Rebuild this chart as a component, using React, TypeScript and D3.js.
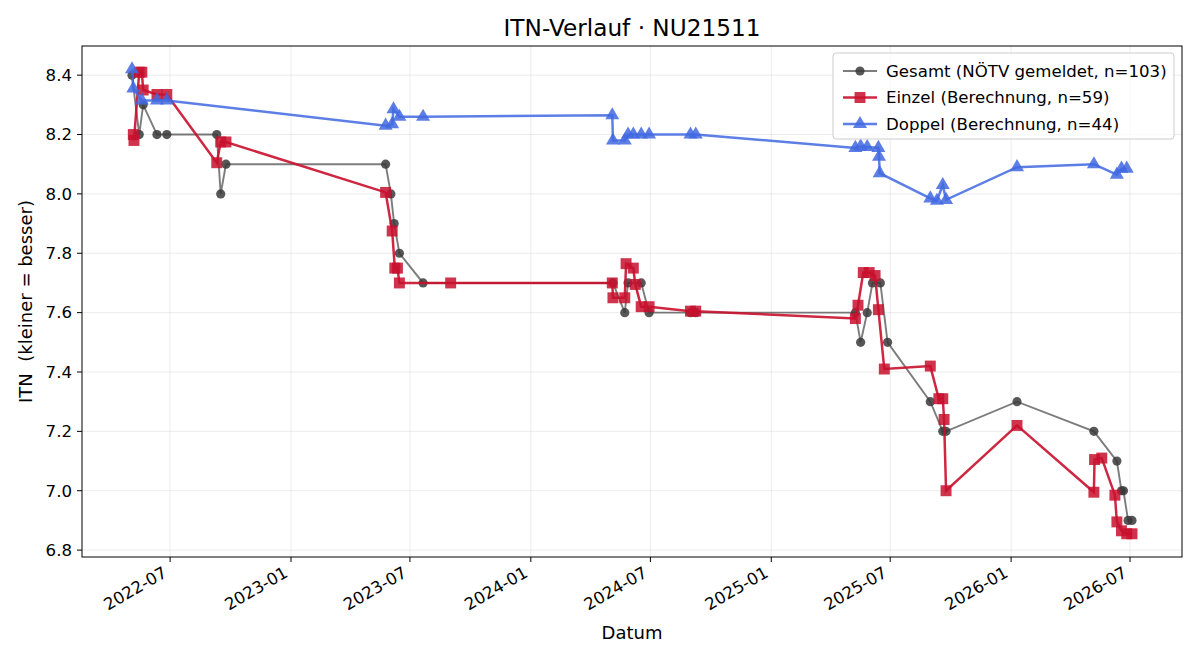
import React, { useEffect, useRef } from "react";
import * as d3 from "d3";

// Gesamt (NÖTV gemeldet)
const gesamtDates = [
  "2022-05-04", "2022-05-15", "2022-05-21", "2022-06-11", "2022-06-26", "2022-09-10", "2022-09-16", "2022-09-24",
  "2023-05-25", "2023-06-02", "2023-06-07", "2023-06-15", "2023-07-21",
  "2024-05-05", "2024-05-23", "2024-05-28", "2024-06-17", "2024-06-29", "2024-08-31", "2024-09-08",
  "2025-05-09", "2025-05-17", "2025-05-27", "2025-06-04", "2025-06-16", "2025-06-27", "2025-08-31", "2025-09-19", "2025-09-24",
  "2026-01-10", "2026-05-07", "2026-06-11", "2026-06-18", "2026-06-21", "2026-06-28", "2026-07-04",
];
const gesamtValues = [
  8.4, 8.2, 8.3, 8.2, 8.2, 8.2, 8.0, 8.1,
  8.1, 8.0, 7.9, 7.8, 7.7,
  7.7, 7.6, 7.7, 7.7, 7.6, 7.6, 7.6,
  7.6, 7.5, 7.6, 7.7, 7.7, 7.5, 7.3, 7.2, 7.2,
  7.3, 7.2, 7.1, 7.0, 7.0, 6.9, 6.9,
];

// Einzel (Berechnung)
const einzelDates = [
  "2022-05-06", "2022-05-07", "2022-05-15", "2022-05-19", "2022-05-21", "2022-06-11", "2022-06-26", "2022-09-10", "2022-09-16", "2022-09-24",
  "2023-05-25", "2023-06-04", "2023-06-08", "2023-06-12", "2023-06-15", "2023-09-01",
  "2024-05-04", "2024-05-05", "2024-05-23", "2024-05-25", "2024-06-05", "2024-06-08", "2024-06-17", "2024-06-29", "2024-08-31", "2024-09-08",
  "2025-05-09", "2025-05-13", "2025-05-21", "2025-05-30", "2025-06-08", "2025-06-13", "2025-06-22", "2025-08-31", "2025-09-13", "2025-09-19", "2025-09-21", "2025-09-24",
  "2026-01-10", "2026-05-07", "2026-05-08", "2026-05-19", "2026-06-08", "2026-06-11", "2026-06-18", "2026-06-26", "2026-07-04",
];
const einzelValues = [
  8.2, 8.18, 8.41, 8.41, 8.35, 8.335, 8.335, 8.105, 8.175, 8.175,
  8.005, 7.875, 7.75, 7.75, 7.7, 7.7,
  7.7, 7.65, 7.65, 7.765, 7.75, 7.695, 7.62, 7.62, 7.605, 7.605,
  7.58, 7.625, 7.735, 7.735, 7.725, 7.61, 7.41, 7.42, 7.31, 7.31, 7.24, 7.0,
  7.22, 6.995, 7.105, 7.11, 6.985, 6.895, 6.865, 6.855, 6.855,
];

// Doppel (Berechnung)
const doppelDates = [
  "2022-05-04", "2022-05-06", "2022-05-19", "2022-06-11", "2022-06-26",
  "2023-05-25", "2023-06-04", "2023-06-06", "2023-06-15", "2023-07-21",
  "2024-05-04", "2024-05-05", "2024-05-23", "2024-05-28", "2024-06-05", "2024-06-17", "2024-06-29", "2024-08-31", "2024-09-08",
  "2025-05-09", "2025-05-17", "2025-05-27", "2025-06-13", "2025-06-14", "2025-06-15", "2025-08-31", "2025-09-10", "2025-09-19", "2025-09-24",
  "2026-01-10", "2026-05-07", "2026-06-11", "2026-06-18", "2026-06-26",
];
const doppelValues = [
  8.42, 8.355, 8.315, 8.315, 8.315,
  8.23, 8.235, 8.285, 8.26, 8.26,
  8.265, 8.18, 8.18, 8.2, 8.2, 8.2, 8.2, 8.2, 8.2,
  8.155, 8.16, 8.158, 8.155, 8.125, 8.07, 7.985, 7.977, 8.03, 7.98,
  8.09, 8.1, 8.065, 8.085, 8.085,
];

const legendLabels = [
  "Gesamt (NÖTV gemeldet, n=103)",
  "Einzel (Berechnung, n=59)",
  "Doppel (Berechnung, n=44)",
];
const yTicks = [6.8, 7.0, 7.2, 7.4, 7.6, 7.8, 8.0, 8.2, 8.4];
const xTickLabels = ["2022-07", "2023-01", "2023-07", "2024-01", "2024-07", "2025-01", "2025-07", "2026-01", "2026-07"];

const FONT = "DejaVu Sans, sans-serif";
const TICK_FS = 16.6;

export default function App() {
  const ref = useRef<SVGSVGElement>(null);

  useEffect(() => {
    document.body.style.margin = "0";
    const svg = d3.select(ref.current);
    svg.selectAll("*").remove();

    const W = 1200, H = 660;
    const left = 82, right = 1182, top = 46, bottom = 557;

    const parse = d3.timeParse("%Y-%m-%d");
    const mk = (ds: string[], vs: number[]) => ds.map((d, i) => ({ date: parse(d) as Date, v: vs[i] }));
    const gesamt = mk(gesamtDates, gesamtValues);
    const einzel = mk(einzelDates, einzelValues);
    const doppel = mk(doppelDates, doppelValues);
    const all = [...gesamt, ...einzel, ...doppel];

    // matplotlib style 5% margins
    const [dMin, dMax] = d3.extent(all, (d) => +d.date) as [number, number];
    const dPad = (dMax - dMin) * 0.05;
    const [vMin, vMax] = d3.extent(all, (d) => d.v) as [number, number];
    const vPad = (vMax - vMin) * 0.05;

    const x = d3.scaleTime().domain([new Date(dMin - dPad), new Date(dMax + dPad)]).range([left, right]);
    const y = d3.scaleLinear().domain([vMin - vPad, vMax + vPad]).range([bottom, top]);

    svg.append("rect").attr("width", W).attr("height", H).attr("fill", "white");

    // grid
    const xTicks = xTickLabels.map((s) => d3.timeParse("%Y-%m")(s) as Date);
    const grid = svg.append("g").attr("stroke", "#b0b0b0").attr("stroke-opacity", 0.3).attr("stroke-width", 0.8);
    grid.selectAll("line.gx").data(xTicks).join("line").attr("class", "gx")
      .attr("x1", (d) => x(d)).attr("x2", (d) => x(d)).attr("y1", top).attr("y2", bottom);
    grid.selectAll("line.gy").data(yTicks).join("line").attr("class", "gy")
      .attr("x1", left).attr("x2", right).attr("y1", (d) => y(d)).attr("y2", (d) => y(d));

    const line = d3.line<{ date: Date; v: number }>().x((d) => x(d.date)).y((d) => y(d.v));

    // Gesamt
    svg.append("path").datum(gesamt).attr("d", line).attr("fill", "none")
      .attr("stroke", "#444").attr("stroke-opacity", 0.7).attr("stroke-width", 1.9);
    svg.append("g").selectAll("circle").data(gesamt).join("circle")
      .attr("cx", (d) => x(d.date)).attr("cy", (d) => y(d.v)).attr("r", 4.6)
      .attr("fill", "#3a3a3a").attr("fill-opacity", 0.85);

    // Einzel
    const red = "#c8102e";
    svg.append("path").datum(einzel).attr("d", line).attr("fill", "none")
      .attr("stroke", red).attr("stroke-opacity", 0.9).attr("stroke-width", 2.5);
    const sq = d3.symbol().type(d3.symbolSquare).size(120);
    svg.append("g").selectAll("path").data(einzel).join("path")
      .attr("d", sq).attr("transform", (d) => `translate(${x(d.date)},${y(d.v)})`)
      .attr("fill", red).attr("fill-opacity", 0.85);

    // Doppel
    const blue = "#4169e1";
    svg.append("path").datum(doppel).attr("d", line).attr("fill", "none")
      .attr("stroke", blue).attr("stroke-opacity", 0.85).attr("stroke-width", 2.5);
    const tri = d3.symbol().type(d3.symbolTriangle).size(85);
    svg.append("g").selectAll("path").data(doppel).join("path")
      .attr("d", tri).attr("transform", (d) => `translate(${x(d.date)},${y(d.v)})`)
      .attr("fill", blue).attr("fill-opacity", 0.85);

    // spines
    svg.append("rect").attr("x", left).attr("y", top).attr("width", right - left).attr("height", bottom - top)
      .attr("fill", "none").attr("stroke", "black").attr("stroke-width", 1);

    // y ticks
    const yt = svg.append("g").selectAll("g").data(yTicks).join("g");
    yt.append("line").attr("x1", left - 5).attr("x2", left).attr("y1", (d) => y(d)).attr("y2", (d) => y(d)).attr("stroke", "black");
    yt.append("text").attr("x", left - 10).attr("y", (d) => y(d)).attr("dy", "0.35em").attr("text-anchor", "end")
      .attr("font-family", FONT).attr("font-size", TICK_FS).text((d) => d.toFixed(1));

    // x ticks
    const xt = svg.append("g").selectAll("g").data(xTicks).join("g");
    xt.append("line").attr("x1", (d) => x(d)).attr("x2", (d) => x(d)).attr("y1", bottom).attr("y2", bottom + 5).attr("stroke", "black");
    xt.append("text").attr("transform", (d) => `translate(${x(d) - 2},${bottom + 19}) rotate(-30)`)
      .attr("text-anchor", "end").attr("font-family", FONT).attr("font-size", TICK_FS)
      .text((_, i) => xTickLabels[i]);

    // labels
    svg.append("text").attr("x", (left + right) / 2).attr("y", 36).attr("text-anchor", "middle")
      .attr("font-family", FONT).attr("font-size", 23.2).text("ITN-Verlauf · NU21511");
    svg.append("text").attr("x", (left + right) / 2).attr("y", 639).attr("text-anchor", "middle")
      .attr("font-family", FONT).attr("font-size", 18).text("Datum");
    svg.append("text").attr("transform", `translate(32,${(top + bottom) / 2}) rotate(-90)`).attr("text-anchor", "middle")
      .attr("font-family", FONT).attr("font-size", 18).style("white-space", "pre")
      .text("ITN  (kleiner = besser)");

    // legend
    const lg = svg.append("g");
    lg.append("rect").attr("x", 833).attr("y", 53).attr("width", 341).attr("height", 86).attr("rx", 3)
      .attr("fill", "white").attr("fill-opacity", 0.8).attr("stroke", "#cccccc");
    const rows = [
      { color: "#444", op: 0.7, w: 1.9, mark: "c" },
      { color: red, op: 0.9, w: 2.5, mark: "s" },
      { color: blue, op: 0.85, w: 2.5, mark: "t" },
    ];
    rows.forEach((r, i) => {
      const cy = 71 + i * 26.5;
      lg.append("line").attr("x1", 843).attr("x2", 877).attr("y1", cy).attr("y2", cy)
        .attr("stroke", r.color).attr("stroke-opacity", r.op).attr("stroke-width", r.w);
      if (r.mark === "c") {
        lg.append("circle").attr("cx", 860).attr("cy", cy).attr("r", 4.6).attr("fill", "#3a3a3a").attr("fill-opacity", 0.85);
      } else {
        lg.append("path").attr("d", r.mark === "s" ? sq : tri).attr("transform", `translate(860,${cy})`)
          .attr("fill", r.color).attr("fill-opacity", 0.85);
      }
      lg.append("text").attr("x", 886).attr("y", cy).attr("dy", "0.35em")
        .attr("font-family", FONT).attr("font-size", TICK_FS).text(legendLabels[i]);
    });
  }, []);

  return <svg ref={ref} width={1200} height={660} style={{ display: "block" }} />;
}
